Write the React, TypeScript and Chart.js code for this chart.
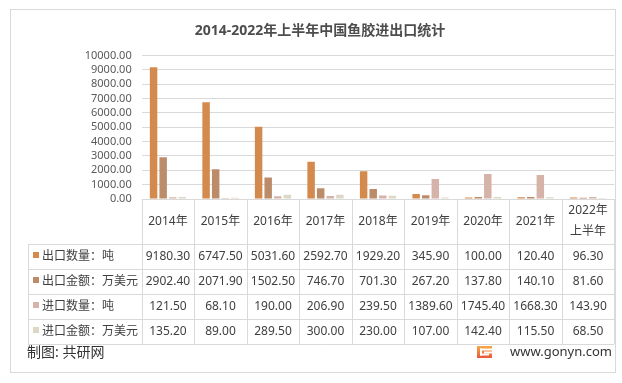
import React, { useEffect, useRef } from "react";
import { Chart, registerables } from "chart.js";

Chart.register(...registerables);

const titleText = "2014-2022年上半年中国鱼胶进出口统计";
const categories: (string | string[])[] = [
  "2014年", "2015年", "2016年", "2017年", "2018年", "2019年", "2020年", "2021年", ["2022年", "上半年"],
];
const seriesNames = ["出口数量：吨", "出口金额：万美元", "进口数量：吨", "进口金额：万美元"];
const exportQty = [9180.3, 6747.5, 5031.6, 2592.7, 1929.2, 345.9, 100.0, 120.4, 96.3];
const exportValue = [2902.4, 2071.9, 1502.5, 746.7, 701.3, 267.2, 137.8, 140.1, 81.6];
const importQty = [121.5, 68.1, 190.0, 206.9, 239.5, 1389.6, 1745.4, 1668.3, 143.9];
const importValue = [135.2, 89.0, 289.5, 300.0, 230.0, 107.0, 142.4, 115.5, 68.5];
const seriesColors = ["#D48A4D", "#BC8C6A", "#D5B3A8", "#DDD7C6"];
const yTicksMax = 10000;
const yTicksStep = 1000;
const footerLeft = "制图: 共研网";
const footerRight = "www.gonyn.com";

const FONT = "'Noto Sans', 'Noto Sans CJK SC', sans-serif";
const LINE = "#D9D9D9";

const decorPlugin = {
  id: "decor",
  beforeDraw(chart: any) {
    const { ctx, width, height } = chart;
    ctx.save();
    ctx.fillStyle = "#FFFFFF";
    ctx.fillRect(0, 0, width, height);
    ctx.strokeStyle = LINE;
    ctx.lineWidth = 1;
    ctx.strokeRect(10.5, 9.5, 605, 363);
    ctx.fillStyle = "#4D4D4D";
    ctx.font = `bold 14px ${FONT}`;
    ctx.textAlign = "center";
    ctx.textBaseline = "middle";
    ctx.fillText(titleText, 320, 31);
    ctx.restore();
  },
  afterDraw(chart: any) {
    const { ctx, chartArea } = chart;
    const xs = chart.scales.x;
    const n = categories.length;
    const catW = (chartArea.right - chartArea.left) / n;
    const top = chartArea.bottom;
    const headerH = 45;
    const rowH = 25;
    const tableLeft = 28;
    const rows = [exportQty, exportValue, importQty, importValue];
    const bottom = top + headerH + rowH * rows.length;
    const px = (v: number) => Math.round(v) + 0.5;

    ctx.save();
    ctx.strokeStyle = LINE;
    ctx.lineWidth = 1;
    ctx.beginPath();
    ctx.moveTo(chartArea.left, px(top));
    ctx.lineTo(chartArea.right, px(top));
    for (let r = 0; r <= rows.length; r++) {
      const y = px(top + headerH + r * rowH);
      ctx.moveTo(tableLeft, y);
      ctx.lineTo(chartArea.right, y);
    }
    ctx.moveTo(px(tableLeft), top + headerH);
    ctx.lineTo(px(tableLeft), bottom);
    for (let i = 0; i <= n; i++) {
      const x = px(chartArea.left + i * catW);
      ctx.moveTo(x, top);
      ctx.lineTo(x, bottom);
    }
    ctx.stroke();

    ctx.fillStyle = "#404040";
    ctx.font = `12px ${FONT}`;
    ctx.textAlign = "center";
    ctx.textBaseline = "middle";
    categories.forEach((c, i) => {
      const cx = xs.getPixelForValue(i);
      const cy = top + headerH / 2;
      if (Array.isArray(c)) {
        const lh = 21;
        c.forEach((line, k) => {
          ctx.fillText(line, cx, cy - ((c.length - 1) * lh) / 2 + k * lh);
        });
      } else {
        ctx.fillText(c, cx, cy);
      }
    });

    rows.forEach((vals, r) => {
      const cy = top + headerH + r * rowH + rowH / 2;
      ctx.fillStyle = seriesColors[r];
      ctx.fillRect(33, Math.round(cy) - 5, 6, 6);
      ctx.fillStyle = "#404040";
      ctx.textAlign = "left";
      ctx.fillText(seriesNames[r], 42, cy);
      ctx.textAlign = "center";
      vals.forEach((v, i) => {
        ctx.fillText(v.toFixed(2), xs.getPixelForValue(i), cy);
      });
    });

    ctx.fillStyle = "#333333";
    ctx.font = `14px ${FONT}`;
    ctx.textAlign = "left";
    ctx.fillText(footerLeft, 27, 353);
    ctx.font = `13px ${FONT}`;
    ctx.textAlign = "right";
    ctx.fillText(footerRight, 612, 352);

    const lx = 477, ly = 346, lw = 15, lh2 = 12;
    const g = ctx.createLinearGradient(0, ly, 0, ly + lh2);
    g.addColorStop(0, "#F6A945");
    g.addColorStop(1, "#E8583C");
    ctx.fillStyle = g;
    ctx.fillRect(lx, ly, lw, lh2);
    ctx.fillStyle = "#FFFFFF";
    ctx.fillRect(lx + 3, ly + 2.5, lw - 3, 2);
    ctx.fillRect(lx + 3, ly + 2.5, 2, lh2 - 5);
    ctx.fillRect(lx + 3, ly + lh2 - 4.5, lw - 6, 2);
    ctx.fillRect(lx + 7, ly + 5.5, lw - 7, 2);
    ctx.restore();
  },
};

export default function App() {
  const ref = useRef<HTMLCanvasElement | null>(null);
  useEffect(() => {
    document.body.style.margin = "0";
    const canvas = ref.current;
    if (!canvas) return;
    const data = [exportQty, exportValue, importQty, importValue];
    const chart = new Chart(canvas, {
      type: "bar",
      data: {
        labels: categories as any,
        datasets: data.map((d, i) => ({
          label: seriesNames[i],
          data: d,
          backgroundColor: seriesColors[i],
          borderWidth: 0,
          categoryPercentage: 0.73,
          barPercentage: 0.78,
        })),
      },
      options: {
        responsive: false,
        animation: false,
        devicePixelRatio: 1,
        layout: { padding: { left: 10, right: 7.7, top: 55.5, bottom: 184 } },
        plugins: { legend: { display: false }, title: { display: false }, tooltip: { enabled: false } },
        scales: {
          x: { display: false },
          y: {
            min: 0,
            max: yTicksMax,
            afterFit: (s: any) => {
              s.width = 131.7;
            },
            ticks: {
              stepSize: yTicksStep,
              autoSkip: false,
              padding: 10,
              color: "#595959",
              font: { size: 11, family: FONT },
              callback: (v: any) => Number(v).toFixed(2),
            },
            grid: { color: LINE, drawTicks: false },
            border: { display: false },
          },
        },
      },
      plugins: [decorPlugin],
    });
    return () => chart.destroy();
  }, []);
  return <canvas ref={ref} width={622} height={383} style={{ display: "block" }} />;
}
